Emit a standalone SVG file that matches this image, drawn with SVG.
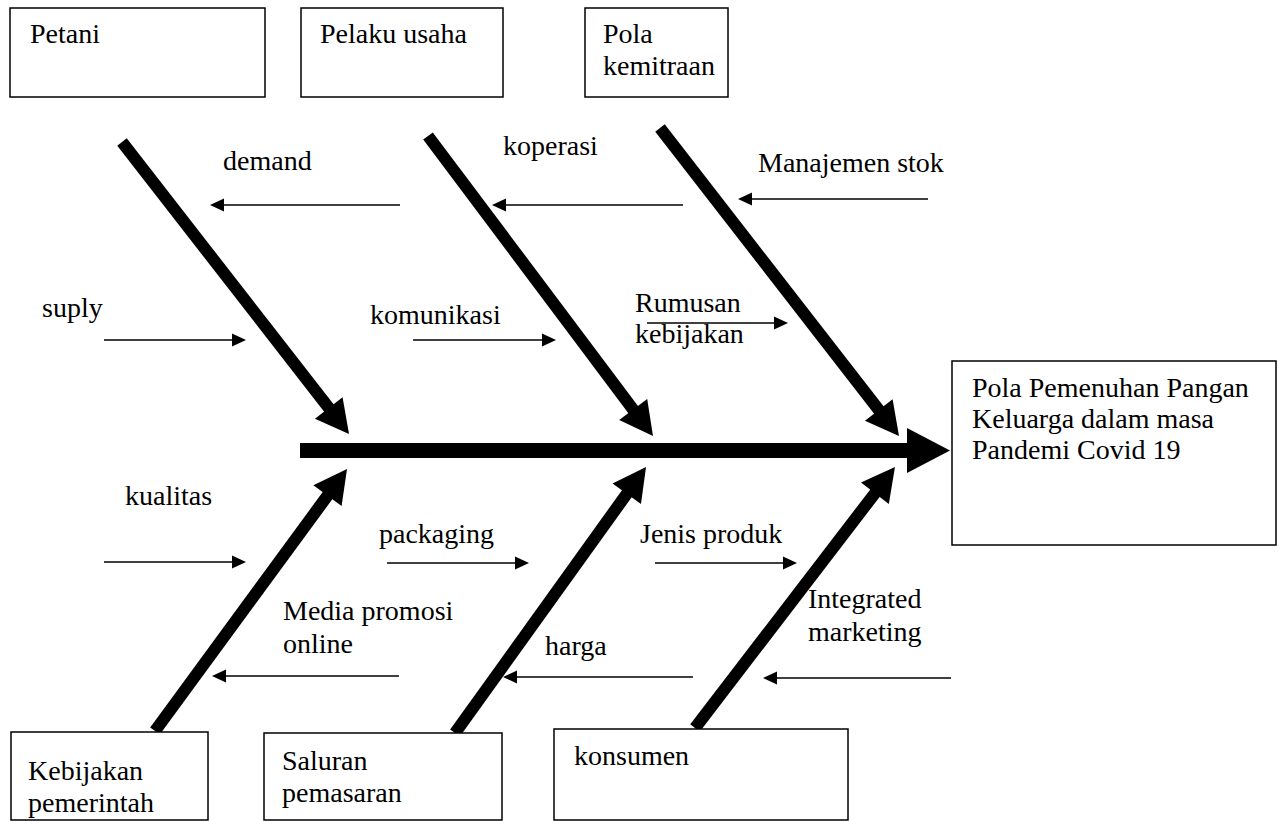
<svg xmlns="http://www.w3.org/2000/svg" width="1284" height="821" viewBox="0 0 1284 821">
<style>
text{font-family:"Liberation Serif","Times New Roman",serif;font-size:28px;fill:#000}
.box{fill:#fff;stroke:#000;stroke-width:1.5}
.bone{stroke:#000;stroke-width:12;fill:none}
.small{stroke:#000;stroke-width:1.6;fill:none}
</style>
<defs>
<marker id="big" markerUnits="userSpaceOnUse" markerWidth="33" markerHeight="35" refX="10" refY="17.5" orient="auto" overflow="visible">
<path d="M0,0 L33,17.5 L0,35 z" fill="#000"/>
</marker>
<marker id="sm" markerUnits="userSpaceOnUse" markerWidth="14" markerHeight="13" refX="12" refY="6.5" orient="auto" overflow="visible">
<path d="M0,0 L14,6.5 L0,13 z" fill="#000"/>
</marker>
</defs>
<rect width="1284" height="821" fill="#fff"/>

<g id="connectors">
<line x1="300" y1="450.5" x2="910" y2="450.5" stroke="#000" stroke-width="15"/>
<polygon points="907,428 950,450.5 907,473" fill="#000"/>
<line class="bone" x1="122" y1="142" x2="334.9" y2="415.8" marker-end="url(#big)"/>
<line class="bone" x1="428" y1="136" x2="639.2" y2="417.6" marker-end="url(#big)"/>
<line class="bone" x1="660" y1="128" x2="884.9" y2="417.8" marker-end="url(#big)"/>
<line class="bone" x1="155" y1="731" x2="333.4" y2="487.6" marker-end="url(#big)"/>
<line class="bone" x1="455" y1="733" x2="632.6" y2="485.7" marker-end="url(#big)"/>
<line class="bone" x1="695" y1="728" x2="881" y2="485.3" marker-end="url(#big)"/>

<line class="small" x1="400" y1="205" x2="212" y2="205" marker-end="url(#sm)"/>
<line class="small" x1="683" y1="205" x2="494" y2="205" marker-end="url(#sm)"/>
<line class="small" x1="928" y1="199" x2="740" y2="199" marker-end="url(#sm)"/>
<line class="small" x1="104" y1="340" x2="244" y2="340" marker-end="url(#sm)"/>
<line class="small" x1="413" y1="340" x2="554" y2="340" marker-end="url(#sm)"/>
<line class="small" x1="647" y1="323" x2="786" y2="323" marker-end="url(#sm)"/>
<line class="small" x1="104" y1="562" x2="244" y2="562" marker-end="url(#sm)"/>
<line class="small" x1="387" y1="563" x2="527" y2="563" marker-end="url(#sm)"/>
<line class="small" x1="655" y1="563" x2="795" y2="563" marker-end="url(#sm)"/>
<line class="small" x1="399" y1="676" x2="214" y2="676" marker-end="url(#sm)"/>
<line class="small" x1="693" y1="677" x2="505" y2="677" marker-end="url(#sm)"/>
<line class="small" x1="951" y1="678" x2="765" y2="678" marker-end="url(#sm)"/>
</g>

<g id="labels">
<text x="223" y="170">demand</text>
<text x="503" y="155">koperasi</text>
<text x="758" y="172">Manajemen stok</text>
<text x="42" y="317">suply</text>
<text x="370" y="324">komunikasi</text>
<text x="635" y="312">Rumusan</text>
<text x="635" y="343">kebijakan</text>
<text x="125" y="505">kualitas</text>
<text x="379" y="543">packaging</text>
<text x="640" y="543">Jenis produk</text>
<text x="283" y="620">Media promosi</text>
<text x="283" y="653">online</text>
<text x="545" y="655">harga</text>
<text x="808" y="608">Integrated</text>
<text x="808" y="641">marketing</text>
</g>

<g id="node-petani">
<rect class="box" x="10" y="8" width="255" height="89"/>
<text x="30" y="43">Petani</text>
</g>
<g id="node-pelaku">
<rect class="box" x="301" y="8" width="202" height="89"/>
<text x="320" y="43">Pelaku usaha</text>
</g>
<g id="node-pola">
<rect class="box" x="585" y="8" width="143" height="89"/>
<text x="603" y="43">Pola</text>
<text x="603" y="75">kemitraan</text>
</g>
<g id="node-result">
<rect class="box" x="952" y="361" width="324" height="184"/>
<text x="972" y="397">Pola Pemenuhan Pangan</text>
<text x="972" y="428">Keluarga dalam masa</text>
<text x="972" y="459">Pandemi Covid 19</text>
</g>
<g id="node-kebijakan">
<rect class="box" x="11" y="732" width="197" height="88"/>
<text x="28" y="780">Kebijakan</text>
<text x="28" y="812">pemerintah</text>
</g>
<g id="node-saluran">
<rect class="box" x="264" y="733" width="238" height="87"/>
<text x="282" y="770">Saluran</text>
<text x="282" y="802">pemasaran</text>
</g>
<g id="node-konsumen">
<rect class="box" x="554" y="729" width="294" height="91"/>
<text x="574" y="765">konsumen</text>
</g>
</svg>
